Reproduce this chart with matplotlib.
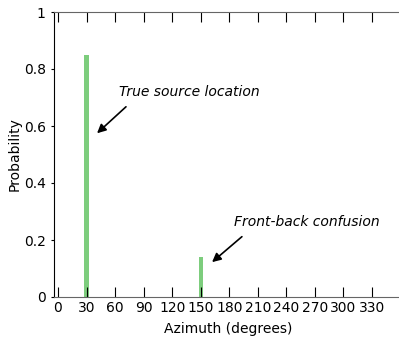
import matplotlib
matplotlib.use("Agg")
import matplotlib.pyplot as plt
from matplotlib.ticker import FuncFormatter

# data
azimuth = [30, 150]
probability = [0.85, 0.14]
xticks = list(range(0, 331, 30))
yticks = [0, 0.2, 0.4, 0.6, 0.8, 1]

fig = plt.figure(figsize=(3.99, 3.37), dpi=100)
ax = fig.add_axes([54/399, 40/337, 347.5/399, 285/337])

ax.bar(azimuth, probability, width=4.5, color='#7dcd7d', edgecolor='none')

ax.set_xlim(-4.2, 361)
ax.set_ylim(0, 1)
ax.set_xticks(xticks)
ax.set_yticks(yticks)
ax.yaxis.set_major_formatter(FuncFormatter(lambda v, p: '%g' % v))

ax.tick_params(axis='x', direction='in', length=7.5, top=True, labelsize=10, width=0.8, pad=3)
ax.tick_params(axis='y', direction='out', length=2.5, right=True, labelsize=10, width=0.8)
ax.spines['left'].set_color('k')
ax.spines['right'].set_visible(False)
for s in ['top', 'bottom']:
    ax.spines[s].set_color('#666666')

ax.set_xlabel('Azimuth (degrees)', fontsize=10, labelpad=5)
ax.set_ylabel('Probability', fontsize=10, labelpad=1.5)

ap = dict(arrowstyle='-|>', color='k', lw=1.2, mutation_scale=13)
ax.annotate('', xy=(38.9, 0.568), xytext=(73.6, 0.674), arrowprops=ap)
ax.text(138, 0.719, 'True source location', style='italic', fontsize=10,
        ha='center', va='center')
ax.annotate('', xy=(159.7, 0.116), xytext=(195.5, 0.218), arrowprops=ap)
ax.text(262, 0.263, 'Front-back confusion', style='italic', fontsize=10,
        ha='center', va='center')

fig.savefig('out.png', dpi=100)
